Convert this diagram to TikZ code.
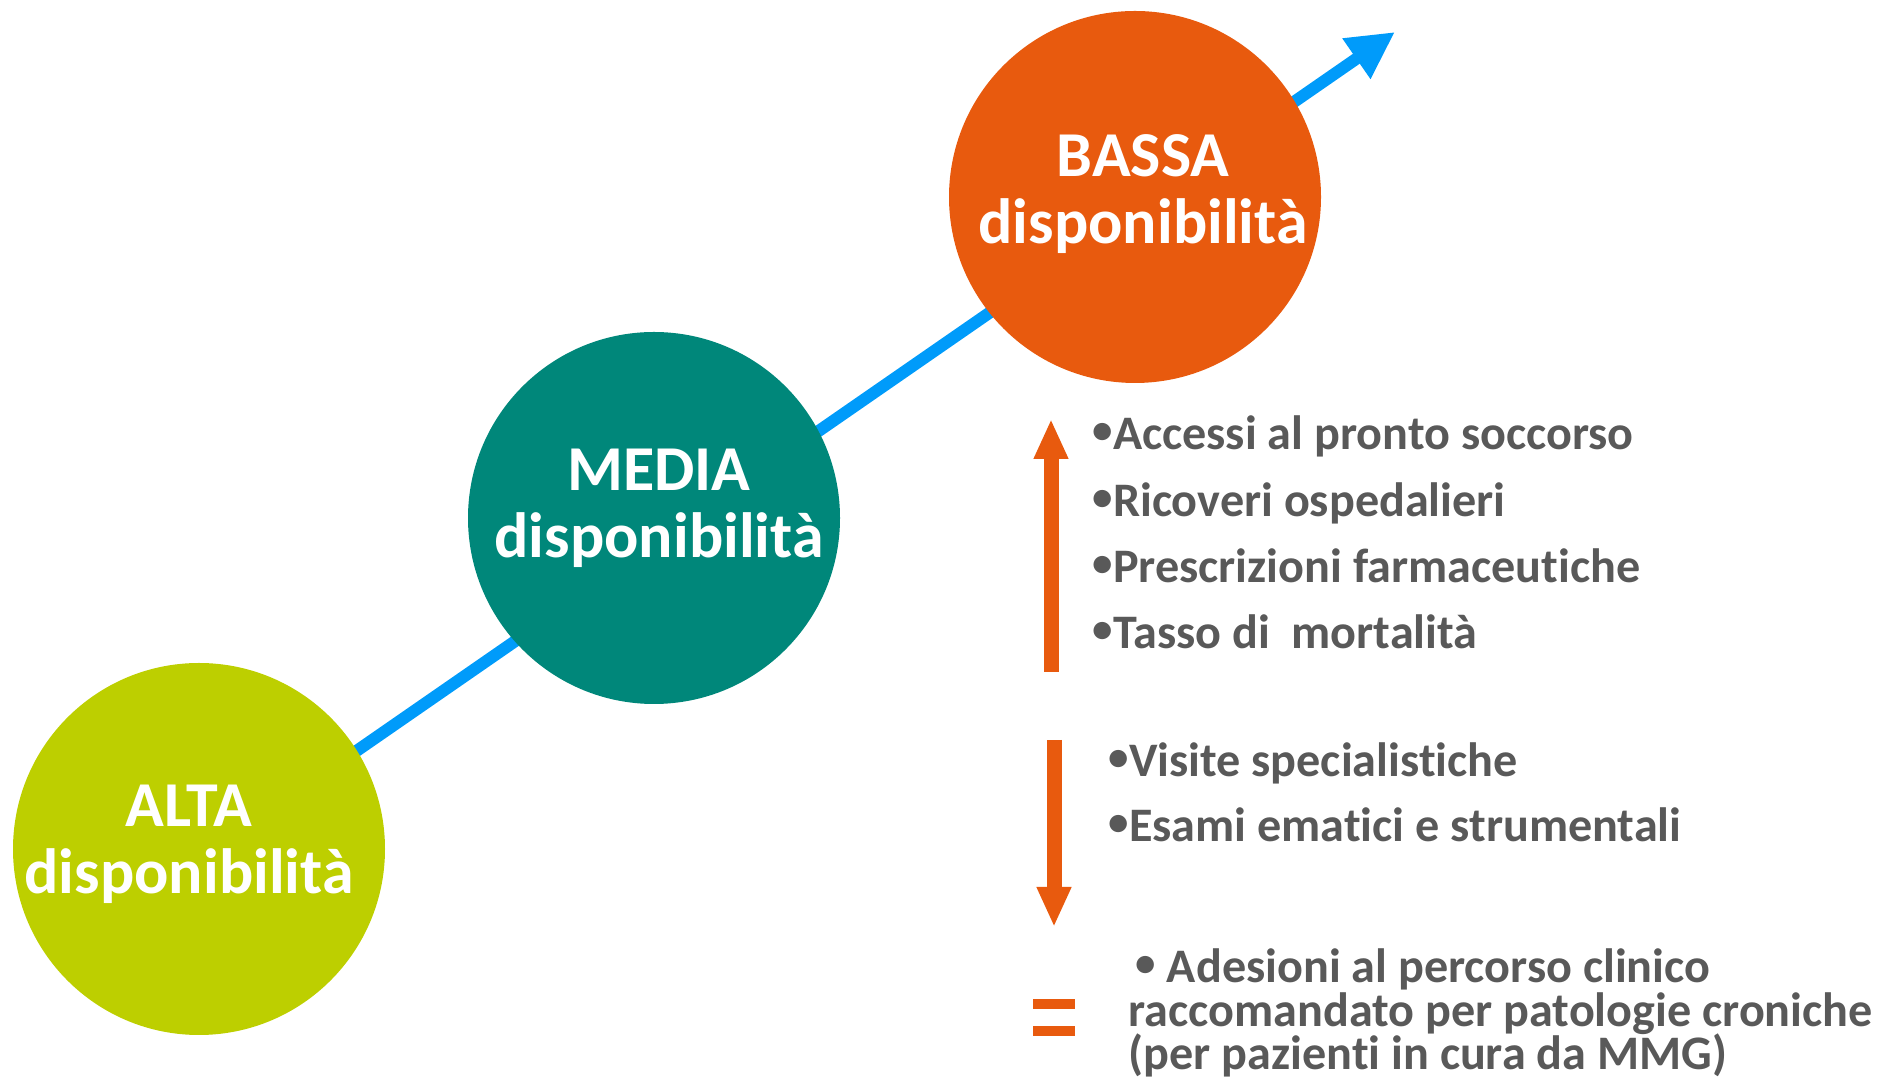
\documentclass[tikz,border=0pt]{standalone}
\usepackage{fontspec}
\usepackage{graphicx}
\setmainfont{Carlito}[Ligatures=NoCommon]
\usetikzlibrary{arrows.meta}

\definecolor{altagreen}{RGB}{189,207,0}
\definecolor{mediateal}{RGB}{0,135,122}
\definecolor{bassaorange}{RGB}{232,90,14}
\definecolor{lineblue}{RGB}{0,155,250}
\definecolor{textgray}{RGB}{89,89,89}

\newcommand{\dotitem}{\raisebox{0.13em}{\scalebox{0.85}{•}}}

\begin{document}
\begin{tikzpicture}[
	level/.style={circle, minimum size=3.72cm, inner sep=0pt},
	leveltext/.style={align=center, text=white, inner sep=0pt,
		font=\fontsize{18.2}{19}\selectfont\bfseries},
	item/.style={anchor=base west, inner sep=0pt, text=textgray,
		font=\fontsize{13.7}{16}\selectfont\bfseries},
	trend/.style={bassaorange, line width=0.15cm, -{Triangle[length=0.4cm, width=0.32cm]}}
]
	\useasboundingbox (0,0) rectangle (18.88,10.77);
	%\draw (0,0) grid (18,10);

	% blue axis behind the circles
	\coordinate (start) at (1.99,2.17);
	\coordinate (tip) at (13.95,10.45);
	\draw[lineblue, line width=0.12cm, -{Triangle[length=0.47cm, width=0.46cm]}] (start) -- (tip);

	\node[level, fill=altagreen] (alta) at (1.99,2.28) {};
	\node[level, fill=mediateal] (media) at (6.54,5.59) {};
	\node[level, fill=bassaorange] (bassa) at (11.35,8.80) {};
	\node[leveltext] (altalabel) at ([shift={(-0.10,0.05)}]alta.center) {ALTA\\disponibilità};
	\node[leveltext] (medialabel) at ([shift={(0.05,0.10)}]media.center) {MEDIA\\disponibilità};
	\node[leveltext] (bassalabel) at ([shift={(0.08,0.03)}]bassa.center) {BASSA\\disponibilità};

	% in aumento
	\coordinate (upfrom) at (10.51,4.05);
	\coordinate (upto) at (10.51,6.58);
	\draw[trend] (upfrom) -- (upto);
	\node[item] (accessi) at (10.92,6.27) {\dotitem Accessi al pronto soccorso};
	\node[item] (ricoveri) at (10.92,5.60) {\dotitem Ricoveri ospedalieri};
	\node[item] (prescrizioni) at (10.92,4.94) {\dotitem Prescrizioni farmaceutiche};
	\node[item] (tasso) at (10.92,4.28) {\dotitem Tasso di\ \ mortalità};

	% in diminuzione
	\coordinate (downfrom) at (10.54,3.37);
	\coordinate (downto) at (10.54,1.50);
	\draw[trend] (downfrom) -- (downto);
	\node[item] (visite) at (11.08,3.00) {\dotitem Visite specialistiche};
	\node[item] (esami) at (11.08,2.35) {\dotitem Esami ematici e strumentali};

	% invariato
	\draw[bassaorange, line width=0.1cm] (10.33,0.73) -- (10.75,0.73);
	\draw[bassaorange, line width=0.1cm] (10.33,0.46) -- (10.75,0.46);
	\node[item] (adesioni) at (11.35,0.94) {\dotitem\ Adesioni al percorso clinico};
	\node[item] (raccomandato) at (11.28,0.50) {raccomandato per patologie croniche};
	\node[item] (pazienti) at (11.28,0.07) {(per pazienti in cura da MMG)};
\end{tikzpicture}
\end{document}
